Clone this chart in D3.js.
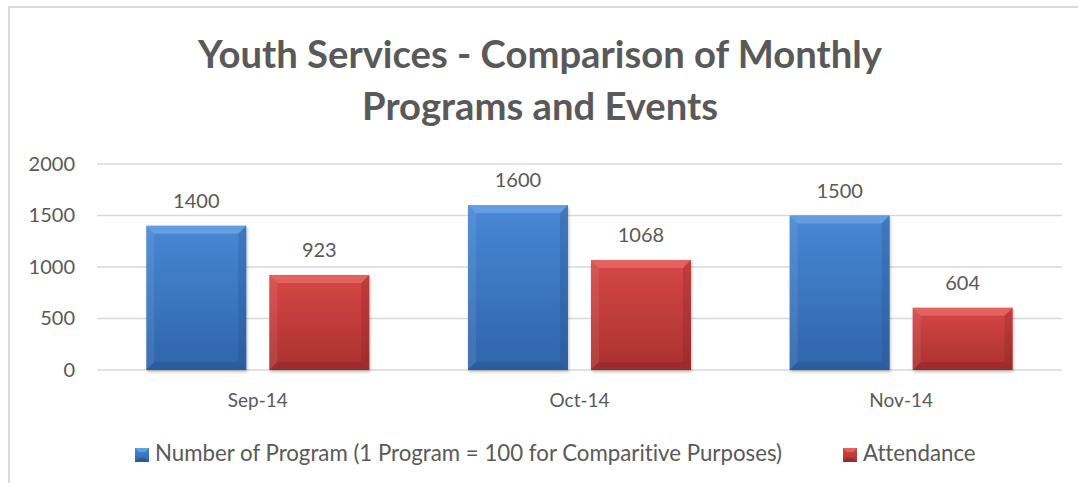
<!DOCTYPE html>
<head>
  <meta charset="utf-8">
  <title>Youth Services</title>
  <style>
  body { margin: 0; background: #fff; }
  text { font-family: Lato, "Open Sans", sans-serif; fill: #595959; font-variant-ligatures: none; }
  .grid line { stroke: #d9d9d9; stroke-width: 1.5; }
  </style>
</head>

<svg id="chart"></svg>

<script src="https://d3js.org/d3.v7.min.js"></script>

<script>
"use strict";

var months = ["Sep-14", "Oct-14", "Nov-14"];
var seriesNames = ["Number of Program (1 Program = 100 for Comparitive Purposes)", "Attendance"];
var programs = [1400, 1600, 1500];
var attendance = [923, 1068, 604];
var yTicks = [0, 500, 1000, 1500, 2000];
var titleLines = ["Youth Services - Comparison of Monthly", "Programs and Events"];

var totalWidth = 1078,
    totalHeight = 483;

var svg = d3.select("#chart")
    .attr("width", totalWidth)
    .attr("height", totalHeight);

// colours for each series: base top/bottom + bevel
var colors = [
  {top: "#4888d4", bottom: "#2f64aa", light: "#6ea6e6", dark: "#1f4a84"},
  {top: "#d64846", bottom: "#aa302f", light: "#e86b68", dark: "#7d1f1e"}
];

var defs = svg.append("defs");
colors.forEach(function(c, i) {
  var gr = defs.append("linearGradient").attr("id", "grad" + i)
      .attr("x1", 0).attr("y1", 0).attr("x2", 0).attr("y2", 1);
  gr.append("stop").attr("offset", "0%").attr("stop-color", c.top);
  gr.append("stop").attr("offset", "100%").attr("stop-color", c.bottom);
});
var shadow = defs.append("filter").attr("id", "shadow")
    .attr("x", "-10%").attr("y", "-10%").attr("width", "130%").attr("height", "130%");
shadow.append("feDropShadow").attr("dx", 1).attr("dy", 2).attr("stdDeviation", 1.5)
    .attr("flood-color", "#000").attr("flood-opacity", 0.25);

// chart border (only left and top edges visible in the frame)
svg.append("rect")
    .attr("x", 9).attr("y", 7)
    .attr("width", 1100).attr("height", 520)
    .attr("fill", "none")
    .attr("stroke", "#d9d9d9")
    .attr("stroke-width", 2);

// title
var title = svg.append("g");
titleLines.forEach(function(t, i) {
  title.append("text")
      .attr("x", 540)
      .attr("y", 68 + i * 52)
      .attr("text-anchor", "middle")
      .attr("font-weight", "bold")
      .attr("font-size", 36)
      .text(t);
});
// fit first line to the width it has in the original
(function() {
  var first = title.select("text").node();
  var w = first.getComputedTextLength();
  var size = 36 * 684 / w;
  title.selectAll("text").attr("font-size", size);
})();

// scales
var y = d3.scaleLinear()
    .domain([0, 2000])
    .range([370, 164]);

var x0 = d3.scaleBand()
    .domain(months)
    .range([97, 1062]);

var x1 = d3.scaleBand()
    .domain([0, 1])
    .range([49.3, 272.3])
    .paddingInner(23 / 123);

// gridlines
svg.append("g")
    .attr("class", "grid")
  .selectAll("line")
  .data(yTicks)
  .enter().append("line")
    .attr("x1", 97).attr("x2", 1062)
    .attr("y1", function(d) { return y(d); })
    .attr("y2", function(d) { return y(d); });

// y axis labels
var yAxis = svg.append("g")
    .attr("transform", "translate(75,0)")
    .call(d3.axisLeft(y).tickValues(yTicks).tickFormat(d3.format("d")).tickSize(0).tickPadding(0));
yAxis.select(".domain").remove();
yAxis.attr("font-family", null);
yAxis.selectAll("text")
    .attr("font-size", 20)
    .attr("fill", "#595959");

// x axis labels
var xAxis = svg.append("g")
    .attr("transform", "translate(0,393)")
    .call(d3.axisBottom(x0).tickSize(0).tickPadding(0));
xAxis.select(".domain").remove();
xAxis.attr("font-family", null);
xAxis.selectAll("text")
    .attr("font-size", 19)
    .attr("fill", "#595959");

// data table
var data = [];
months.forEach(function(m, i) {
  data.push({month: m, s: 0, value: programs[i]});
  data.push({month: m, s: 1, value: attendance[i]});
});

var bar = svg.selectAll(".bar")
    .data(data)
  .enter().append("g")
    .attr("class", "bar")
    .attr("transform", function(d) { return "translate(" + (x0(d.month) + x1(d.s)) + ",0)"; });

bar.each(function(d) {
  var g = d3.select(this);
  var w = x1.bandwidth(),
      top = y(d.value),
      h = y(0) - top,
      b = 8,
      c = colors[d.s];
  g.append("rect")
      .attr("y", top).attr("width", w).attr("height", h)
      .attr("fill", "url(#grad" + d.s + ")")
      .attr("filter", "url(#shadow)");
  // bevel faces
  g.append("polygon")
      .attr("points", [[0, top], [w, top], [w - b, top + b], [b, top + b]].join(" "))
      .attr("fill", c.light).attr("opacity", 0.75);
  g.append("polygon")
      .attr("points", [[0, top], [b, top + b], [b, top + h - b], [0, top + h]].join(" "))
      .attr("fill", "#fff").attr("opacity", 0.08);
  g.append("polygon")
      .attr("points", [[w, top], [w, top + h], [w - b, top + h - b], [w - b, top + b]].join(" "))
      .attr("fill", c.dark).attr("opacity", 0.25);
  g.append("polygon")
      .attr("points", [[0, top + h], [b, top + h - b], [w - b, top + h - b], [w, top + h]].join(" "))
      .attr("fill", c.dark).attr("opacity", 0.3);
  // value label
  g.append("text")
      .attr("x", w / 2)
      .attr("y", top - 18)
      .attr("text-anchor", "middle")
      .attr("font-size", 20)
      .text(d.value);
});

// legend
var legendX = [135, 843];
var legend = svg.selectAll(".legend")
    .data(seriesNames)
  .enter().append("g")
    .attr("class", "legend")
    .attr("transform", function(d, i) { return "translate(" + legendX[i] + ",448)"; });

legend.append("rect")
    .attr("width", 14).attr("height", 14)
    .attr("fill", function(d, i) { return "url(#grad" + i + ")"; });
legend.append("polygon")
    .attr("points", "0,0 14,0 10,4 4,4")
    .attr("fill", function(d, i) { return colors[i].light; })
    .attr("opacity", 0.8);
legend.append("polygon")
    .attr("points", "0,14 4,10 10,10 14,14")
    .attr("fill", function(d, i) { return colors[i].dark; })
    .attr("opacity", 0.5);
legend.append("text")
    .attr("x", 20)
    .attr("y", 13)
    .attr("font-size", 20)
    .text(function(d) { return d; });

// fit legend font to original width
(function() {
  var t = legend.select("text").node();
  var w = t.getComputedTextLength();
  legend.selectAll("text").attr("font-size", 20 * 627 / w);
})();
</script>
